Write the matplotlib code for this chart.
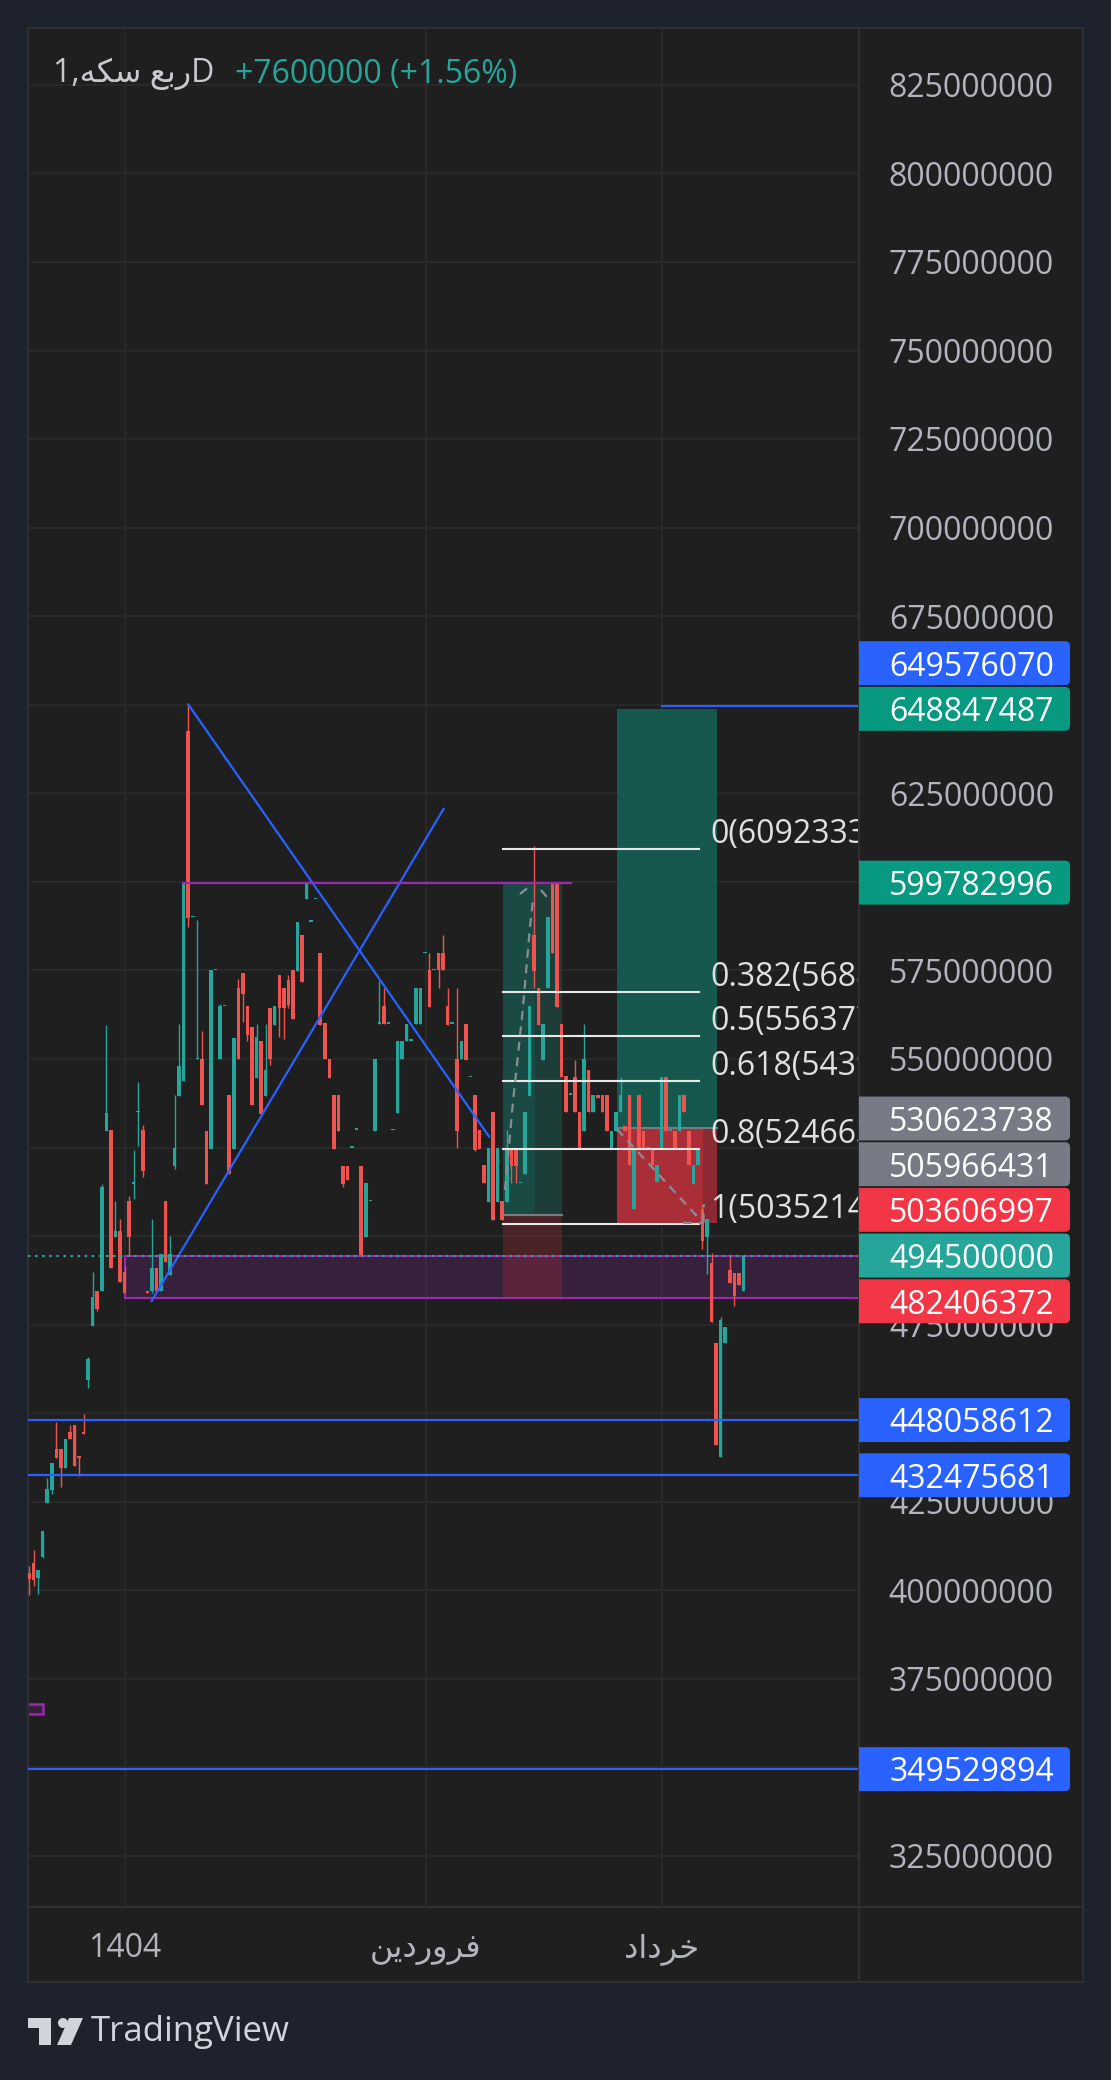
import matplotlib.pyplot as plt
from matplotlib.patches import Rectangle, FancyBboxPatch, Circle, Polygon
import numpy as np

plt.rcParams['font.family'] = ['Open Sans', 'DejaVu Sans']

W, H = 1111, 2080

# daily candles, prices in millions
opens = [404.8, 407.6, 403.6, 409.5, 424.7, 428.3, 440.0, 440.0, 434.6, 444.7,
         446.7, 437.8, 444.7, 459.5, 474.6, 484.6, 484.6, 529.7, 530.0, 499.7,
         501.4, 489.9, 509.9, 514.8, 534.9, 530.0, 484.6, 484.6, 491.0, 484.6,
         509.9, 488.9, 519.8, 539.6, 543.8, 642.6, 590.0, 549.9, 549.9, 529.7,
         524.5, 575.1, 549.9, 564.9, 539.9, 524.5, 570.1, 574.3, 564.9, 559.0,
         544.7, 555.1, 539.5, 564.4, 559.7, 573.7, 570.1, 572.4, 575.1, 574.7,
         585.0, 595.1, 588.8, 595.1, 580.0, 560.1, 549.9, 539.9, 539.9, 519.9,
         519.9, 524.9, 530.0, 519.9, 499.8, 509.9, 529.7, 559.9, 565.0, 559.9,
         529.9, 534.8, 550.0, 555.1, 555.1, 559.9, 559.9, 579.8, 575.1, 575.1,
         579.8, 579.8, 565.0, 559.9, 550.0, 550.0, 559.9, 544.8, 539.8, 529.9,
         520.1, 509.7, 534.9, 509.7, 509.9, 509.7, 525.0, 525.0, 514.9, 517.5,
         539.6, 585.0, 570.1, 549.7, 570.0, 599.9, 599.9, 559.9, 545.2, 539.9,
         544.8, 535.1, 529.8, 546.8, 535.1, 539.9, 539.9, 539.9, 524.8, 529.8,
         535.1, 531.1, 539.9, 507.7, 539.9, 529.8, 524.8, 524.8, 515.3, 524.8,
         544.8, 529.8, 529.8, 529.8, 539.9, 529.8, 514.7, 520.0, 507.6, 499.8,
         492.5, 469.8, 437.5, 469.8, 490.3, 489.7, 489.7, 484.6]
highs = [406.8, 411.5, 405.6, 416.8, 431.6, 436.0, 447.5, 440.0, 442.7, 446.7,
         446.7, 437.8, 449.7, 465.9, 489.9, 484.6, 514.6, 559.5, 530.0, 509.9,
         504.9, 491.6, 511.3, 524.3, 543.5, 531.4, 484.6, 504.9, 491.0, 494.9,
         509.9, 500.1, 539.8, 559.9, 600.0, 650.1, 590.0, 589.3, 557.9, 529.7,
         575.1, 575.1, 565.4, 564.9, 539.9, 555.9, 572.6, 574.3, 564.9, 559.0,
         559.9, 555.1, 559.9, 564.4, 564.9, 573.7, 570.1, 573.7, 575.1, 588.7,
         585.0, 600.0, 588.8, 595.1, 580.0, 560.1, 549.9, 539.9, 539.9, 519.9,
         519.9, 524.9, 530.0, 519.9, 515.0, 509.9, 549.9, 572.0, 570.1, 559.9,
         529.9, 555.1, 555.1, 559.9, 555.1, 570.0, 570.0, 579.8, 579.8, 575.1,
         579.8, 585.0, 570.1, 559.9, 570.1, 555.1, 559.9, 544.8, 539.8, 529.9,
         520.1, 524.8, 534.9, 524.8, 509.9, 529.9, 525.0, 525.0, 514.9, 535.0,
         565.0, 610.1, 570.1, 559.9, 590.2, 599.9, 599.9, 559.9, 545.2, 539.9,
         549.7, 535.1, 559.8, 546.8, 539.9, 539.9, 539.9, 539.9, 529.8, 535.1,
         544.8, 531.1, 539.9, 524.8, 539.9, 529.8, 524.8, 524.8, 520.0, 544.8,
         544.8, 529.8, 529.8, 539.9, 539.9, 529.8, 520.0, 524.8, 508.7, 504.8,
         495.1, 469.8, 477.3, 474.3, 494.7, 489.7, 489.7, 494.5]
lows = [398.7, 401.2, 399.0, 409.0, 424.7, 427.2, 437.4, 429.2, 434.6, 442.8,
        435.2, 432.4, 444.0, 457.2, 474.6, 478.8, 484.6, 529.7, 491.0, 499.7,
        486.9, 484.0, 494.5, 510.5, 525.4, 516.8, 483.8, 484.0, 484.6, 484.6,
        492.7, 488.9, 519.0, 539.6, 543.8, 587.3, 590.0, 549.9, 536.9, 514.7,
        524.5, 575.1, 549.9, 564.9, 517.6, 524.5, 549.9, 560.3, 555.1, 536.9,
        544.7, 534.6, 539.5, 548.2, 559.7, 556.2, 555.5, 564.5, 561.4, 574.7,
        571.8, 595.1, 588.8, 595.1, 559.7, 549.9, 544.7, 524.5, 529.7, 514.0,
        515.9, 524.9, 530.0, 494.6, 499.8, 509.9, 529.7, 559.9, 559.9, 559.9,
        529.9, 534.8, 550.0, 555.1, 555.1, 559.9, 559.9, 579.8, 564.8, 575.1,
        570.1, 575.0, 559.7, 559.9, 524.9, 550.0, 549.7, 544.8, 524.0, 524.6,
        514.9, 509.7, 504.6, 509.7, 504.6, 509.7, 514.9, 514.9, 514.9, 517.5,
        539.6, 570.1, 559.7, 549.7, 570.0, 579.8, 564.8, 544.8, 534.9, 539.9,
        535.1, 524.8, 529.8, 534.9, 535.1, 539.0, 534.9, 529.8, 524.8, 529.8,
        535.1, 529.8, 520.0, 507.7, 524.8, 524.8, 524.8, 520.0, 515.3, 524.8,
        529.8, 529.8, 524.8, 529.8, 534.9, 520.0, 514.7, 520.0, 496.3, 489.4,
        475.8, 441.0, 437.5, 469.8, 486.8, 480.2, 486.2, 484.6]
closes = [403.2, 402.8, 405.6, 416.8, 428.6, 436.0, 437.4, 434.6, 442.7, 442.8,
          435.2, 437.4, 444.0, 465.3, 482.9, 479.5, 514.0, 534.7, 491.0, 501.4,
          486.9, 484.0, 499.7, 515.1, 535.2, 518.4, 483.8, 491.0, 484.6, 494.9,
          492.7, 494.9, 524.8, 548.0, 600.0, 589.9, 590.0, 550.1, 536.9, 514.7,
          575.1, 575.1, 564.9, 564.9, 517.6, 555.9, 549.9, 568.3, 556.8, 536.9,
          556.2, 534.6, 547.0, 550.1, 564.9, 564.3, 564.5, 565.2, 561.4, 588.7,
          571.8, 600.0, 588.8, 595.1, 559.7, 549.9, 544.7, 524.5, 529.7, 514.7,
          515.9, 524.9, 530.0, 494.6, 515.0, 509.9, 549.9, 560.1, 559.9, 559.9,
          529.9, 555.1, 555.1, 559.9, 555.1, 570.0, 570.0, 579.8, 564.8, 575.1,
          575.1, 575.0, 559.7, 559.9, 529.8, 555.1, 549.7, 544.8, 524.3, 524.6,
          514.9, 524.8, 504.6, 524.8, 504.6, 524.8, 519.9, 519.9, 514.9, 535.0,
          565.0, 574.8, 559.7, 559.9, 590.2, 579.8, 564.8, 544.8, 534.9, 539.9,
          535.1, 524.8, 550.0, 534.9, 539.9, 539.0, 534.9, 529.8, 529.8, 535.1,
          539.9, 529.8, 520.0, 524.8, 524.8, 524.8, 524.8, 520.0, 520.0, 544.8,
          529.8, 529.8, 524.8, 539.9, 534.9, 520.0, 520.0, 524.8, 498.6, 504.8,
          475.8, 441.0, 476.4, 474.3, 486.8, 483.2, 486.2, 494.5]

last_price = 494.5
price_ticks = [825, 800, 775, 750, 725, 700, 675, 625, 575, 550, 475, 425, 400, 375, 325]
grid_prices = [325, 350, 375, 400, 425, 450, 475, 500, 525, 550, 575, 600,
               625, 650, 675, 700, 725, 750, 775, 800, 825]
month_pos = [21.0, 87.2, 139.0]
month_labels = ['1404',
                '\uFEE6\uFEF3\uFEA9\uFEAD\uFEED\uFEAE\uFED3',
                '\uFEA9\uFE8D\uFEA9\uFEAE\uFEA7']

# drawings
trend_down_x = [35.0, 101.1]
trend_down_y = [650.1, 528.1]
trend_up_x = [26.97, 91.1]
trend_up_y = [481.7, 620.6]
hlines_full = [448.058612, 432.475681, 349.529894]
hline_top = 649.57607
hline_top_start = 139.1
resist_y = 599.782996
resist_x = [33.9, 119.2]
zone_lo, zone_hi, zone_start = 482.406372, 494.3, 21.0
small_zone = [365.2, 367.9]

pos1_x = [104.2, 117.1]
pos1_hit = 111.1
pos1_entry, pos1_target, pos1_stop = 505.966431, 599.782996, 482.406372
pos2_x = [129.2, 151.1]
pos2_hit = 148.1
pos2_entry, pos2_target, pos2_stop = 530.623738, 648.847487, 503.606997

fib_levels = ['0', '0.382', '0.5', '0.618', '0.8', '1']
fib_prices = [609.233333, 568.851349, 556.377366, 543.903384, 524.663333, 503.521400]
fib_x = [104.1, 147.2]
fib_text_x = 149.7

path1_x = [104.6, 106.4, 108.5, 110.1, 110.8]
path1_y = [513.0, 538.4, 563.8, 587.4, 595.4]
head1 = [([107.9, 109.5], [596.6, 598.2]), ([112.5, 113.9], [597.7, 595.6])]
path2_x = [129.2, 147.1]
path2_y = [530.2, 505.2]
head2 = [([143.7, 148.2], [503.8, 503.8]), ([148.2, 148.3], [503.8, 509.0])]

label_vals = [649.57607, 648.847487, 599.782996, 530.623738, 505.966431, 503.606997,
              494.5, 482.406372, 448.058612, 432.475681, 349.529894]
label_cols = ['#2962ff', '#089981', '#089981', '#787b86', '#787b86', '#f23645',
              '#26a69a', '#f23645', '#2962ff', '#2962ff', '#2962ff']

BG = '#1f1f1f'
OUT = '#1e222d'
GRID = '#2a2a2a'
UP, DOWN = '#26a69a', '#ef5350'
BLUE, PURPLE = '#2962ff', '#9c27b0'
TXT = '#b2b5be'
FS = 23
TXT_DY = -1.1  # optical centring of digits

fig = plt.figure(figsize=(W / 100, H / 100), dpi=100, facecolor=OUT)


def rect(x0, y0, x1, y1):
    return [x0 / W, 1 - y1 / H, (x1 - x0) / W, (y1 - y0) / H]


ax = fig.add_axes(rect(28, 28, 859, 1907))
axp = fig.add_axes(rect(859, 28, 1083, 1907))
axt = fig.add_axes(rect(28, 1907, 859, 1982))
axc = fig.add_axes(rect(859, 1907, 1083, 1982))

ylim = (310.6, 841.05)
xlim = (-0.22, 182.4)
for a in (ax, axp, axt, axc):
    a.set_facecolor(BG)
    a.set_xticks([])
    a.set_yticks([])
    for s in a.spines.values():
        s.set_color('#2f2f2f')
        s.set_linewidth(1.5)
ax.set_xlim(xlim)
ax.set_ylim(ylim)

# grid
for g in grid_prices:
    ax.axhline(g, color=GRID, lw=1.3, zorder=0.5)
for t in month_pos:
    ax.axvline(t, color=GRID, lw=1.3, zorder=0.5)

# purple zones
ax.add_patch(Rectangle((zone_start, zone_lo), xlim[1] + 5 - zone_start, zone_hi - zone_lo,
                       facecolor=PURPLE, alpha=0.2, edgecolor='none', zorder=1))
ax.plot([zone_start, zone_start, xlim[1] + 5], [zone_hi, zone_lo, zone_lo], color=PURPLE, lw=1.5, zorder=1.1)
ax.plot([zone_start, zone_start, xlim[1] + 5], [zone_lo, zone_hi, zone_hi], color=PURPLE, lw=1.5, zorder=1.1)
ax.add_patch(Rectangle((-3, small_zone[0]), 6.1, small_zone[1] - small_zone[0],
                       facecolor=PURPLE, alpha=0.2, edgecolor='none', zorder=1))
ax.add_patch(Rectangle((-3, small_zone[0]), 6.1, small_zone[1] - small_zone[0],
                       facecolor='none', edgecolor=PURPLE, lw=1.8, zorder=1.1))

# long position 1
w1 = pos1_x[1] - pos1_x[0]
ax.add_patch(Rectangle((pos1_x[0], pos1_entry), w1, pos1_target - pos1_entry,
                       facecolor='#1d3d38', edgecolor='none', zorder=1.2))
ax.add_patch(Rectangle((pos1_x[0], pos1_entry), pos1_hit - pos1_x[0], pos1_target - pos1_entry,
                       facecolor='#1a4a44', edgecolor='none', zorder=1.2))
ax.add_patch(Rectangle((pos1_x[0], pos1_stop), w1, pos1_entry - pos1_stop,
                       facecolor='#f23645', alpha=0.2, edgecolor='none', zorder=1.2))
ax.plot(pos1_x, [pos1_entry] * 2, color='#787b86', lw=1.5, zorder=1.3)

# long position 2
w2 = pos2_x[1] - pos2_x[0]
ax.add_patch(Rectangle((pos2_x[0], pos2_entry), w2, pos2_target - pos2_entry,
                       facecolor='#16584e', edgecolor='none', zorder=1.2))
ax.add_patch(Rectangle((pos2_x[0], pos2_stop), w2, pos2_entry - pos2_stop,
                       facecolor='#8c2a33', edgecolor='none', zorder=1.2))
ax.add_patch(Rectangle((pos2_x[0], pos2_stop), pos2_hit - pos2_x[0], pos2_entry - pos2_stop,
                       facecolor='#aa2e38', edgecolor='none', zorder=1.2))
ax.plot(pos2_x, [pos2_entry] * 2, color='#787b86', lw=1.5, zorder=1.3)

# candles
o = np.array(opens)
h = np.array(highs)
l = np.array(lows)
c = np.array(closes)
x = np.arange(len(o))
cols = np.where(c >= o, UP, DOWN)
ax.vlines(x, l, h, colors=cols, lw=1.0, zorder=3)
ax.bar(x, np.maximum(np.abs(c - o), 0.4), 0.78, np.minimum(o, c), color=cols, lw=0, zorder=3)

# lines
ax.plot(trend_down_x, trend_down_y, color=BLUE, lw=1.6, zorder=5)
ax.plot(trend_up_x, trend_up_y, color=BLUE, lw=1.6, zorder=5)
for v in hlines_full:
    ax.axhline(v, color=BLUE, lw=1.6, zorder=5)
ax.plot([hline_top_start, xlim[1] + 5], [hline_top] * 2, color=BLUE, lw=1.6, zorder=5)
ax.plot(resist_x, [resist_y] * 2, color=PURPLE, lw=1.6, zorder=5)
ax.axhline(last_price, color=UP, lw=1.5, ls=(0, (1.2, 2.2)), zorder=6)

# fib retracement
for lv, pr in zip(fib_levels, fib_prices):
    ax.plot(fib_x, [pr, pr], color='#e8e8e8', lw=1.5, zorder=5)
    ax.text(fib_text_x, pr + 5.2 + TXT_DY, f'{lv}({pr * 1e6:.0f})', color='#e0e0e0', fontsize=FS,
            va='center', ha='left', clip_on=True, zorder=6)

# dashed paths
ax.plot(path1_x, path1_y, color='#8a8d96', lw=1.6, ls=(0, (4, 3)), zorder=5)
for hx, hy in head1:
    ax.plot(hx, hy, color='#8a8d96', lw=1.6, ls=(0, (4, 3)), zorder=5)
ax.plot(path2_x, path2_y, color='#8a8d96', lw=1.6, ls=(0, (4, 3)), zorder=5)
for hx, hy in head2:
    ax.plot(hx, hy, color='#8a8d96', lw=1.6, ls=(0, (4, 3)), zorder=5)

# price axis
axp.set_xlim(0, 224)
axp.set_ylim(ylim)
for t in price_ticks:
    axp.text(195, t + TXT_DY, f'{t * 1000000}', color=TXT, fontsize=FS, ha='right', va='center', zorder=2)

box_h = 12.9
n = len(label_vals)
centers = [0.0] * n
li = label_vals.index(last_price)
centers[li] = last_price
prev = last_price
for k in sorted([k for k in range(n) if label_vals[k] > last_price], key=lambda k: label_vals[k]):
    centers[k] = max(label_vals[k], prev + box_h)
    prev = centers[k]
prev = last_price
for k in sorted([k for k in range(n) if label_vals[k] < last_price], key=lambda k: -label_vals[k]):
    centers[k] = min(label_vals[k], prev - box_h)
    prev = centers[k]

aspect = (ylim[1] - ylim[0]) / 1879 / 1.0
for v, cy, col in zip(label_vals, centers, label_cols):
    box = FancyBboxPatch((-10, cy - box_h / 2 + 0.25), 221, box_h - 0.5,
                         boxstyle='round,pad=0,rounding_size=5', mutation_aspect=aspect,
                         facecolor=col, edgecolor='none', zorder=3, clip_on=True)
    axp.add_patch(box)
    axp.text(195, cy + TXT_DY, f'{v * 1e6:.0f}', color='white', fontsize=FS, ha='right', va='center', zorder=4)

# time axis
axt.set_xlim(xlim)
axt.set_ylim(0, 1)
for t, lab in zip(month_pos, month_labels):
    axt.text(t, 0.45, lab, color=TXT, fontsize=FS, ha='center', va='center')

# header
fig.text(53 / W, 1 - 74 / H, '1,\uFEEA\uFB91\uFEB3 \uFECA\uFE91\uFEADD', color='#c8cad0',
         fontsize=FS, ha='left', va='center')
fig.text(235 / W, 1 - 74 / H, '+7600000 (+1.56%)', color=UP, fontsize=FS, ha='left', va='center')

# TradingView logo
axl = fig.add_axes(rect(20, 2005, 320, 2058))
axl.set_xlim(20, 320)
axl.set_ylim(2058, 2005)
axl.axis('off')
LOGO = '#d1d4dc'
axl.add_patch(Rectangle((28, 2018), 23, 10, facecolor=LOGO, edgecolor='none'))
axl.add_patch(Rectangle((39, 2018), 12, 27, facecolor=LOGO, edgecolor='none'))
axl.add_patch(Circle((63, 2023), 5, facecolor=LOGO, edgecolor='none'))
axl.add_patch(Polygon([(69, 2018), (83, 2018), (71, 2045), (57, 2045)], facecolor=LOGO, edgecolor='none'))
axl.text(91, 2032, 'TradingView', color=LOGO, fontsize=25, ha='left', va='center')

fig.savefig('out.png', dpi=100, facecolor=OUT)
